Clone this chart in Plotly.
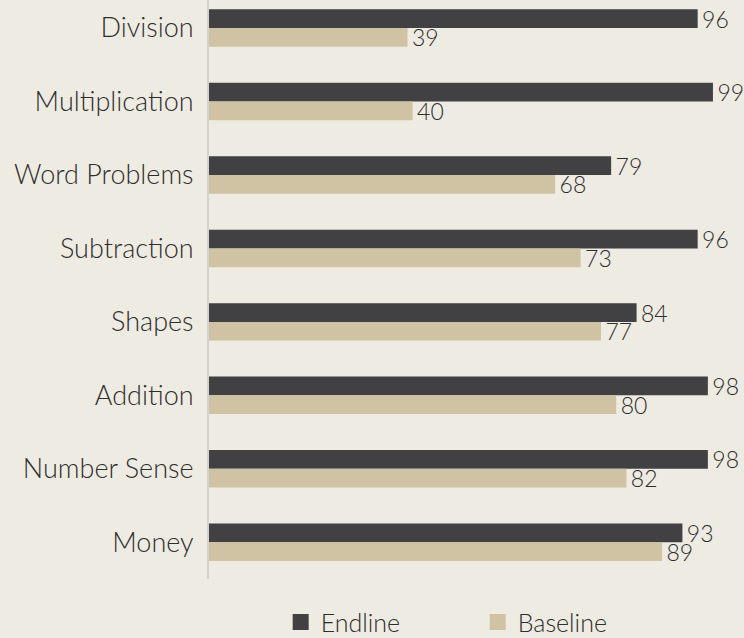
import plotly.graph_objects as go

categories = ["Division", "Multiplication", "Word Problems", "Subtraction",
              "Shapes", "Addition", "Number Sense", "Money"]
endline = [96, 99, 79, 96, 84, 98, 98, 93]
baseline = [39, 40, 68, 73, 77, 80, 82, 89]

DARK = "#414143"
TAN = "#cfc3a4"
BG = "#eeebe3"
TXT = "#2e2e2e"
FONT = "Lato"

fig = go.Figure()
fig.add_trace(go.Bar(
    y=categories, x=endline, orientation="h", name="Endline",
    marker=dict(color=DARK, line=dict(width=0)),
    text=[f"\u200a{v}" for v in endline], textposition="outside",
    textfont=dict(size=23, color=TXT, family=FONT, weight=300),
    constraintext="none", cliponaxis=False, showlegend=False,
))
fig.add_trace(go.Bar(
    y=categories, x=baseline, orientation="h", name="Baseline",
    marker=dict(color=TAN, line=dict(width=0)),
    text=[f"\u200a{v}" for v in baseline], textposition="outside",
    textfont=dict(size=23, color=TXT, family=FONT, weight=300),
    constraintext="none", cliponaxis=False, showlegend=False,
))
# legend entries
for nm, col in [("Endline", DARK), ("Baseline", TAN)]:
    fig.add_trace(go.Scatter(
        x=[None], y=[None], mode="markers", name=nm,
        marker=dict(symbol="square", size=16, color=col),
    ))

fig.update_layout(
    width=744, height=638,
    margin=dict(l=209, r=0, t=0, b=59, autoexpand=False),
    paper_bgcolor=BG, plot_bgcolor=BG,
    barmode="group", bargap=0.49, bargroupgap=0,
    font=dict(family=FONT, size=26, color=TXT, weight=300),
    showlegend=True,
    legend=dict(orientation="h", x=0.134, xanchor="left", y=-0.0745, yanchor="middle",
                bgcolor="rgba(0,0,0,0)", entrywidth=152, entrywidthmode="pixels",
                font=dict(size=25, family=FONT, color=TXT, weight=300),
                itemwidth=30),
    xaxis=dict(range=[0, 105.1], visible=False, showgrid=False, zeroline=False),
    yaxis=dict(type="category", categoryorder="array", categoryarray=categories,
               range=[7.5, -0.3815], showgrid=False, zeroline=False,
               showline=True, linecolor="#d3d2cf", linewidth=2,
               ticks="outside", ticklen=8, tickcolor="rgba(0,0,0,0)",
               tickfont=dict(size=27, family=FONT, color=TXT, weight=300)),
)

fig.write_html("out.html")
